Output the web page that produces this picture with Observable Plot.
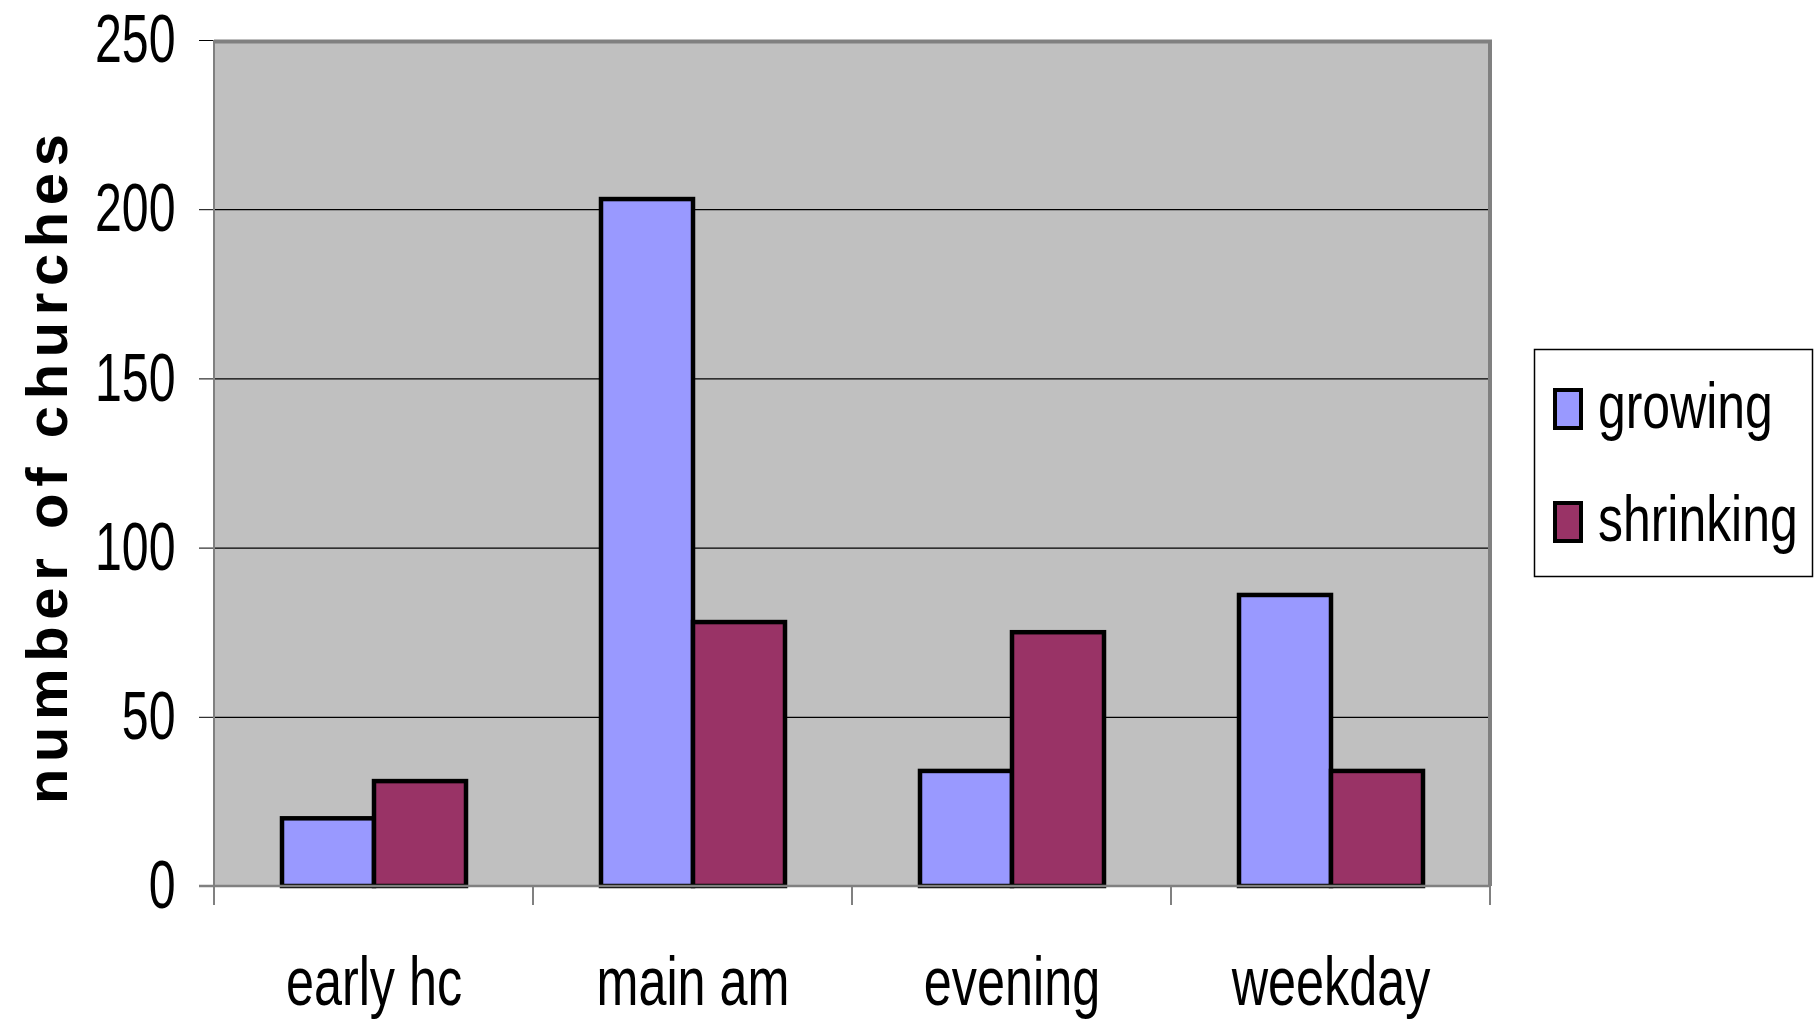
<!DOCTYPE html>
<html><head><meta charset="utf-8">
<script src="https://cdn.jsdelivr.net/npm/d3@7"></script>
<script src="https://cdn.jsdelivr.net/npm/@observablehq/plot@0.6"></script>
<style>
body{margin:0;background:#fff;}
#wrap{position:relative;width:1816px;height:1023px;overflow:hidden;}
</style></head><body><div id="wrap"></div>
<script>
const categories = ["early hc", "main am", "evening", "weekday"];
const seriesNames = ["growing", "shrinking"];
const growing = [20, 203, 34, 86];
const shrinking = [31, 78, 75, 34];
const yTicks = [0, 50, 100, 150, 200, 250];
const gridValues = [50, 100, 150, 200];
const yLabel = "number of churches";
const colors = ["#9999ff", "#993366"];

const data = categories.flatMap((c, i) => [
  {category: c, series: seriesNames[0], value: growing[i]},
  {category: c, series: seriesNames[1], value: shrinking[i]}
]);

const W = 1816, H = 1023, mL = 213, mR = 325, mT = 40, mB = 137;
const FONT = "'Liberation Sans', Arial, sans-serif";

const chart = Plot.plot({
  width: W, height: H,
  marginLeft: mL, marginRight: mR, marginTop: mT, marginBottom: mB,
  style: {background: "transparent", fontFamily: FONT, fontSize: "68px", color: "#000", overflow: "visible"},
  facet: {data, x: "category", marginTop: 0, marginBottom: 0, marginLeft: 0, marginRight: 0},
  fx: {domain: categories, padding: 0, axis: "bottom", label: null, tickSize: 0, tickPadding: 70},
  x: {domain: seriesNames, paddingInner: 0, paddingOuter: 0.73, axis: null},
  y: {domain: [0, 250], ticks: yTicks, tickSize: 15, tickPadding: 24, label: null},
  color: {domain: seriesNames, range: colors},
  marks: [
    Plot.ruleY(gridValues, {stroke: "#000", strokeWidth: 1.2}),
    Plot.barY(data, {x: "series", y: "value", fill: "series", stroke: "#000", strokeWidth: 4.5})
  ]
});
document.getElementById("wrap").appendChild(chart);

const svg = d3.select(chart);
const fx = chart.scale("fx");
const ys = chart.scale("y");
const y0 = ys.apply(0), yTop = ys.apply(250);
const xLeft = fx.apply(categories[0]);
const xRight = fx.apply(categories[categories.length - 1]) + fx.bandwidth;

// plot-area background, behind everything
const firstG = chart.querySelector("g");
const bg = document.createElementNS("http://www.w3.org/2000/svg", "rect");
bg.setAttribute("x", xLeft); bg.setAttribute("y", yTop);
bg.setAttribute("width", xRight - xLeft); bg.setAttribute("height", y0 - yTop);
bg.setAttribute("fill", "#c0c0c0");
chart.insertBefore(bg, firstG);

// plot-area border (Excel style)
const g = svg.append("g");
g.append("line").attr("x1", xLeft).attr("x2", xRight + 2).attr("y1", yTop + 1.5).attr("y2", yTop + 1.5)
  .attr("stroke", "#808080").attr("stroke-width", 4);
g.append("line").attr("x1", xRight).attr("x2", xRight).attr("y1", yTop).attr("y2", y0)
  .attr("stroke", "#808080").attr("stroke-width", 4);
g.append("line").attr("x1", xLeft).attr("x2", xLeft).attr("y1", yTop).attr("y2", y0 + 19)
  .attr("stroke", "#808080").attr("stroke-width", 2);
g.append("line").attr("x1", xLeft - 15).attr("x2", xRight).attr("y1", y0).attr("y2", y0)
  .attr("stroke", "#808080").attr("stroke-width", 2.5);
// category boundary ticks
const edges = categories.map(c => fx.apply(c)).concat([xRight]);
g.selectAll(".ct").data(edges).join("line")
  .attr("x1", d => d).attr("x2", d => d).attr("y1", y0).attr("y2", y0 + 19)
  .attr("stroke", "#808080").attr("stroke-width", 2);

// y title
svg.append("text")
  .attr("transform", `translate(${67},${(yTop + y0) / 2 + 6}) rotate(-90)`)
  .attr("text-anchor", "middle")
  .attr("font-family", FONT).attr("font-weight", "bold").attr("font-size", 58)
  .attr("textLength", 670).attr("lengthAdjust", "spacing")
  .attr("fill", "#000")
  .text(yLabel);

// legend
const color = chart.scale("color");
const lg = svg.append("g").attr("font-family", FONT).attr("font-size", 64).attr("text-anchor", "start");
lg.append("rect").attr("x", 1534.5).attr("y", 349.5).attr("width", 278).attr("height", 227)
  .attr("fill", "#fff").attr("stroke", "#000").attr("stroke-width", 1.5);
const legY = [430, 543];
seriesNames.forEach((s, i) => {
  lg.append("rect").attr("x", 1555).attr("y", legY[i] - 40).attr("width", 26).attr("height", 38)
    .attr("fill", color.apply(s)).attr("stroke", "#000").attr("stroke-width", 4);
  lg.append("g").attr("transform", `translate(1598,${legY[i] - 2}) scale(0.78,1)`)
    .append("text").attr("x", 0).attr("y", 0)
    .attr("text-anchor", "start").attr("fill", "#000").text(s);
});

// condense fonts to mimic narrow face
function squeeze(sel, k) {
  sel.each(function() {
    const len = this.getComputedTextLength();
    if (len > 0) {
      this.setAttribute("textLength", len * k);
      this.setAttribute("lengthAdjust", "spacingAndGlyphs");
    }
  });
}
squeeze(svg.selectAll("g[aria-label='y-axis'] text, g[aria-label='y-axis tick label'] text"), 0.71);
squeeze(svg.selectAll("g[aria-label='fx-axis'] text, g[aria-label='fx-axis tick label'] text"), 0.74);
</script></body></html>
